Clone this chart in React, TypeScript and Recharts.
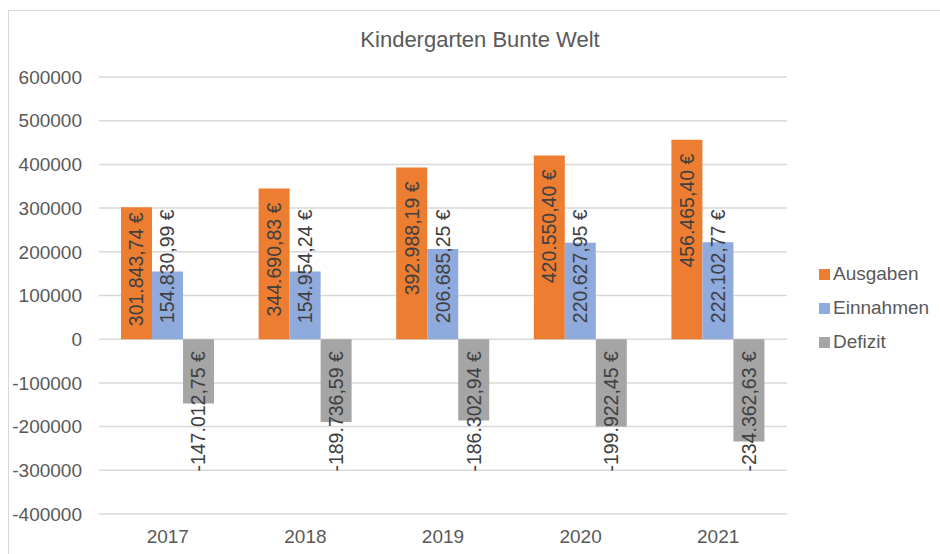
import { BarChart, Bar, XAxis, YAxis, CartesianGrid, Legend, LabelList } from 'recharts';

const years = ['2017', '2018', '2019', '2020', '2021'];
const ausgaben = [301843.74, 344690.83, 392988.19, 420550.4, 456465.4];
const einnahmen = [154830.99, 154954.24, 206685.25, 220627.95, 222102.77];
const defizit = [-147012.75, -189736.59, -186302.94, -199922.45, -234362.63];
const yTicks = [-400000, -300000, -200000, -100000, 0, 100000, 200000, 300000, 400000, 500000, 600000];

const seriesNames = ['Ausgaben', 'Einnahmen', 'Defizit'];
const seriesColors = ['#ED7D31', '#8FAADC', '#A5A5A5'];

const data = years.map((year, i) => ({
  year,
  Ausgaben: ausgaben[i],
  Einnahmen: einnahmen[i],
  Defizit: defizit[i],
}));

const FONT = '"Liberation Sans", Arial, sans-serif';
const AXIS_SIZE = 19;
const LABEL_SIZE = 19.5;

// 301843.74 -> "301.843,74 €"
function euro(v: number) {
  const [int, dec] = Math.abs(v).toFixed(2).split('.');
  const grouped = int.replace(/\B(?=(\d{3})+(?!\d))/g, '.');
  return `${v < 0 ? '-' : ''}${grouped},${dec} €`;
}

// rough Arial advance widths, good enough to keep a label inside its bar
function textWidth(s: string, size: number) {
  let w = 0;
  for (const ch of s) {
    if ((ch >= '0' && ch <= '9') || ch === '€') w += 0.556;
    else if (ch === '-') w += 0.333;
    else w += 0.278;
  }
  return w * size;
}

function makeLabel(place: 'end' | 'base') {
  return (props: any) => {
    const { x, y, width, height, value } = props;
    const top = Math.min(y, y + height);
    const bottom = Math.max(y, y + height);
    const cx = x + width / 2;
    const label = euro(value);
    let ay: number;
    let anchor: 'start' | 'end';
    if (value >= 0) {
      if (place === 'end') {
        const len = textWidth(label, LABEL_SIZE);
        ay = Math.min(top + 14, bottom - 13 - len);
        anchor = 'end';
      } else {
        ay = bottom - 16;
        anchor = 'start';
      }
    } else {
      ay = top + 12;
      anchor = 'end';
    }
    return (
      <text
        x={cx}
        y={ay}
        dy="0.35em"
        transform={`rotate(-90, ${cx}, ${ay})`}
        textAnchor={anchor}
        fill="#404040"
        fontSize={LABEL_SIZE}
        fontFamily={FONT}
      >
        {label}
      </text>
    );
  };
}

function LegendBox() {
  return (
    <div style={{ fontFamily: FONT, fontSize: AXIS_SIZE, color: '#595959' }}>
      {seriesNames.map((name, i) => (
        <div key={name} style={{ height: 34, display: 'flex', alignItems: 'center' }}>
          <span style={{ width: 11, height: 11, background: seriesColors[i], marginRight: 3 }} />
          <span>{name}</span>
        </div>
      ))}
    </div>
  );
}

export default function App() {
  return (
    <div style={{ position: 'absolute', left: 0, top: 0, width: 940, height: 554, background: '#fff', overflow: 'hidden' }}>
      <div
        style={{
          position: 'absolute',
          left: 8,
          top: 10,
          width: 960,
          height: 600,
          border: '1px solid #d9d9d9',
        }}
      />
      <div
        style={{
          position: 'absolute',
          left: 280,
          top: 29,
          width: 400,
          textAlign: 'center',
          fontFamily: FONT,
          fontSize: 22,
          lineHeight: '22px',
          color: '#595959',
        }}
      >
        Kindergarten Bunte Welt
      </div>
      <div style={{ position: 'absolute', left: 0, top: 0 }}>
        <BarChart
          width={940}
          height={554}
          data={data}
          margin={{ top: 77, right: 32, bottom: 0, left: 0 }}
          barCategoryGap="16%"
          barGap={0}
        >
          <CartesianGrid vertical={false} stroke="#d9d9d9" strokeWidth={1.5} />
          <XAxis
            dataKey="year"
            height={40}
            axisLine={false}
            tickLine={false}
            tickSize={0}
            tickMargin={16}
            tick={{ fill: '#595959', fontSize: AXIS_SIZE, fontFamily: FONT }}
          />
          <YAxis
            width={99}
            domain={[-400000, 600000]}
            ticks={yTicks}
            axisLine={false}
            tickLine={false}
            tickSize={0}
            tickMargin={17}
            tick={{ fill: '#595959', fontSize: AXIS_SIZE, fontFamily: FONT }}
          />
          <Legend
            layout="vertical"
            align="right"
            verticalAlign="middle"
            wrapperStyle={{ left: 819, top: 257, width: 121 }}
            content={() => <LegendBox />}
          />
          <Bar dataKey="Ausgaben" fill={seriesColors[0]} isAnimationActive={false}>
            <LabelList dataKey="Ausgaben" content={makeLabel('end')} />
          </Bar>
          <Bar dataKey="Einnahmen" fill={seriesColors[1]} isAnimationActive={false}>
            <LabelList dataKey="Einnahmen" content={makeLabel('base')} />
          </Bar>
          <Bar dataKey="Defizit" fill={seriesColors[2]} isAnimationActive={false}>
            <LabelList dataKey="Defizit" content={makeLabel('base')} />
          </Bar>
        </BarChart>
      </div>
    </div>
  );
}
